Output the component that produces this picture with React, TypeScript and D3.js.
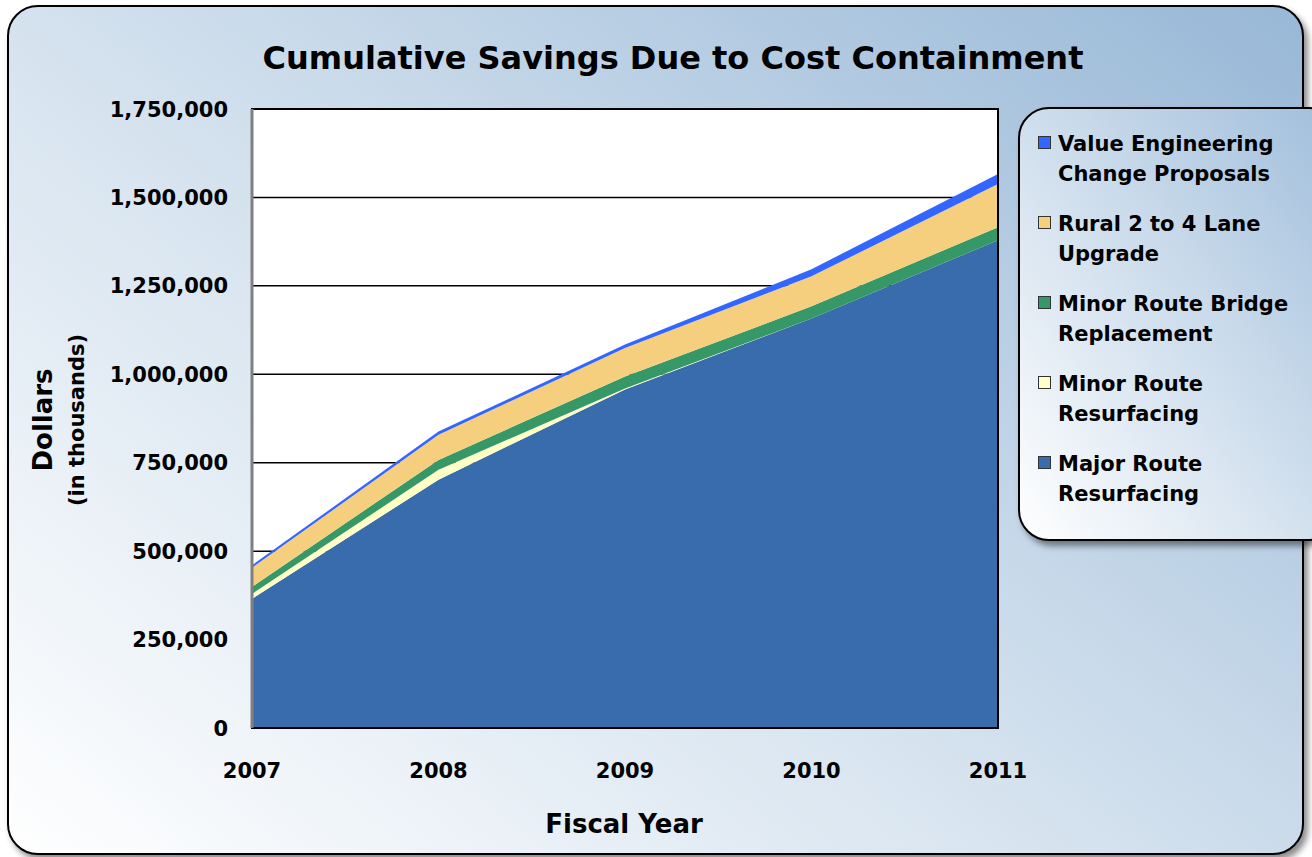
import React, { useEffect, useRef } from 'react';
import * as d3 from 'd3';

const years: number[] = [2007, 2008, 2009, 2010, 2011];
const majorRoute: number[] = [365000, 702000, 957000, 1158000, 1379000];
const minorResurfacing: number[] = [14000, 28000, 3000, 0, 0];
const minorBridge: number[] = [20000, 28000, 34000, 34000, 37000];
const ruralUpgrade: number[] = [54000, 71000, 80000, 85000, 122000];
const valueEngineering: number[] = [7000, 9000, 10000, 20000, 28000];
const yTicks: number[] = [0, 250000, 500000, 750000, 1000000, 1250000, 1500000, 1750000];

const seriesKeys = ['major', 'minorRes', 'bridge', 'rural', 've'];
const seriesColors: Record<string, string> = {
  major: '#386cad',
  minorRes: '#ffffc6',
  bridge: '#369866',
  rural: '#f5cf7d',
  ve: '#3366ff',
};
// legend lists top series first
const legendItems: { key: string; lines: string[] }[] = [
  { key: 've', lines: ['Value Engineering', 'Change Proposals'] },
  { key: 'rural', lines: ['Rural 2 to 4 Lane', 'Upgrade'] },
  { key: 'bridge', lines: ['Minor Route Bridge', 'Replacement'] },
  { key: 'minorRes', lines: ['Minor Route', 'Resurfacing'] },
  { key: 'major', lines: ['Major Route', 'Resurfacing'] },
];

const FONT = '"DejaVu Sans", sans-serif';

const App: React.FC = () => {
  const ref = useRef<SVGSVGElement | null>(null);

  useEffect(() => {
    if (!ref.current) return;
    document.body.style.margin = '0';

    const width = 1312;
    const height = 857;
    const plot = { left: 252, right: 998, top: 109, bottom: 728 };

    const svg = d3.select(ref.current).attr('width', width).attr('height', height);
    svg.selectAll('*').remove();

    const defs = svg.append('defs');
    const bg = defs
      .append('linearGradient')
      .attr('id', 'bgGrad')
      .attr('gradientUnits', 'userSpaceOnUse')
      .attr('x1', 0)
      .attr('y1', 857)
      .attr('x2', 900)
      .attr('y2', -300);
    bg.append('stop').attr('offset', '0%').attr('stop-color', '#ffffff');
    bg.append('stop').attr('offset', '45%').attr('stop-color', '#d6e3ef');
    bg.append('stop').attr('offset', '100%').attr('stop-color', '#98b8d7');

    const lg = defs
      .append('linearGradient')
      .attr('id', 'legGrad')
      .attr('x1', 0)
      .attr('y1', 1)
      .attr('x2', 1)
      .attr('y2', 0);
    lg.append('stop').attr('offset', '0%').attr('stop-color', '#ffffff');
    lg.append('stop').attr('offset', '100%').attr('stop-color', '#a0bedb');

    const shadow = defs
      .append('filter')
      .attr('id', 'shadow')
      .attr('x', '-10%')
      .attr('y', '-10%')
      .attr('width', '130%')
      .attr('height', '130%');
    shadow
      .append('feDropShadow')
      .attr('dx', 4)
      .attr('dy', 5)
      .attr('stdDeviation', 3)
      .attr('flood-color', '#000')
      .attr('flood-opacity', 0.45);

    // outer panel
    svg
      .append('rect')
      .attr('x', 8)
      .attr('y', 6)
      .attr('width', 1295)
      .attr('height', 848)
      .attr('rx', 30)
      .attr('fill', 'url(#bgGrad)')
      .attr('stroke', '#000')
      .attr('stroke-width', 2)
      .attr('filter', 'url(#shadow)');

    // title
    svg
      .append('text')
      .attr('x', 673)
      .attr('y', 69)
      .attr('text-anchor', 'middle')
      .style('font-family', FONT)
      .style('font-weight', 'bold')
      .style('font-size', '32px')
      .text('Cumulative Savings  Due to Cost Containment');

    const x = d3.scaleLinear().domain([2007, 2011]).range([plot.left, plot.right]);
    const y = d3.scaleLinear().domain([0, 1750000]).range([plot.bottom, plot.top]);

    // plot background
    svg
      .append('rect')
      .attr('x', plot.left)
      .attr('y', plot.top)
      .attr('width', plot.right - plot.left)
      .attr('height', plot.bottom - plot.top)
      .attr('fill', '#fff');

    // gridlines
    svg
      .append('g')
      .selectAll('line')
      .data(yTicks.slice(1))
      .enter()
      .append('line')
      .attr('x1', plot.left)
      .attr('x2', plot.right)
      .attr('y1', (d) => y(d))
      .attr('y2', (d) => y(d))
      .attr('stroke', '#000')
      .attr('stroke-width', 1.5);

    const rows = years.map((yr, i) => ({
      year: yr,
      major: majorRoute[i],
      minorRes: minorResurfacing[i],
      bridge: minorBridge[i],
      rural: ruralUpgrade[i],
      ve: valueEngineering[i],
    }));

    const stacked = d3.stack<any>().keys(seriesKeys)(rows);

    const area = d3
      .area<any>()
      .x((d) => x(d.data.year))
      .y0((d) => y(d[0]))
      .y1((d) => y(d[1]));

    svg
      .append('g')
      .selectAll('path')
      .data(stacked)
      .enter()
      .append('path')
      .attr('d', area)
      .attr('fill', (d) => seriesColors[d.key]);

    // plot border
    svg
      .append('rect')
      .attr('x', plot.left)
      .attr('y', plot.top)
      .attr('width', plot.right - plot.left)
      .attr('height', plot.bottom - plot.top)
      .attr('fill', 'none')
      .attr('stroke', '#000')
      .attr('stroke-width', 2);
    svg
      .append('line')
      .attr('x1', plot.left)
      .attr('x2', plot.left)
      .attr('y1', plot.top)
      .attr('y2', plot.bottom)
      .attr('stroke', '#808080')
      .attr('stroke-width', 3);

    // y tick labels
    svg
      .append('g')
      .selectAll('text')
      .data(yTicks)
      .enter()
      .append('text')
      .attr('x', 228)
      .attr('y', (d) => y(d))
      .attr('dy', '0.36em')
      .attr('text-anchor', 'end')
      .style('font-family', FONT)
      .style('font-weight', 'bold')
      .style('font-size', '21px')
      .text((d) => d3.format(',')(d));

    // x tick labels
    svg
      .append('g')
      .selectAll('text')
      .data(years)
      .enter()
      .append('text')
      .attr('x', (d) => x(d))
      .attr('y', 778)
      .attr('text-anchor', 'middle')
      .style('font-family', FONT)
      .style('font-weight', 'bold')
      .style('font-size', '21px')
      .text((d) => String(d));

    // axis titles
    svg
      .append('text')
      .attr('x', 624)
      .attr('y', 833)
      .attr('text-anchor', 'middle')
      .style('font-family', FONT)
      .style('font-weight', 'bold')
      .style('font-size', '26px')
      .text('Fiscal Year');

    svg
      .append('text')
      .attr('transform', 'translate(52,420) rotate(-90)')
      .attr('text-anchor', 'middle')
      .style('font-family', FONT)
      .style('font-weight', 'bold')
      .style('font-size', '26px')
      .text('Dollars');
    svg
      .append('text')
      .attr('transform', 'translate(84,420) rotate(-90)')
      .attr('text-anchor', 'middle')
      .style('font-family', FONT)
      .style('font-weight', 'bold')
      .style('font-size', '21px')
      .text('(in thousands)');

    // legend
    const legend = svg.append('g');
    legend
      .append('rect')
      .attr('x', 1019)
      .attr('y', 108)
      .attr('width', 320)
      .attr('height', 432)
      .attr('rx', 30)
      .attr('fill', 'url(#legGrad)')
      .attr('stroke', '#000')
      .attr('stroke-width', 2)
      .attr('filter', 'url(#shadow)');

    legendItems.forEach((item, i) => {
      const base = 151 + i * 80;
      legend
        .append('rect')
        .attr('x', 1038.5)
        .attr('y', base - 14.5)
        .attr('width', 12)
        .attr('height', 12)
        .attr('fill', seriesColors[item.key])
        .attr('stroke', '#333')
        .attr('stroke-width', 1);
      item.lines.forEach((line, j) => {
        legend
          .append('text')
          .attr('x', 1058)
          .attr('y', base + j * 30)
          .style('font-family', FONT)
          .style('font-weight', 'bold')
          .style('font-size', '21px')
          .text(line);
      });
    });
  }, []);

  return <svg ref={ref} style={{ display: 'block' }}></svg>;
};

export default App;
